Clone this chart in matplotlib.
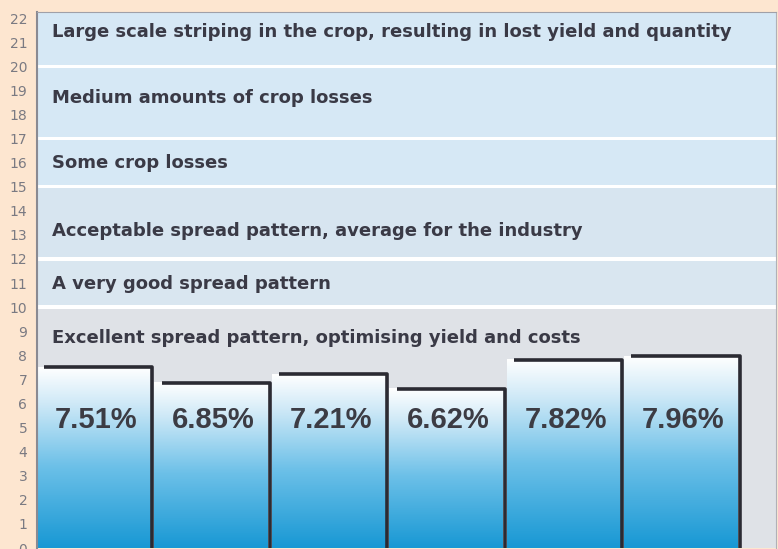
import numpy as np
import matplotlib.pyplot as plt
from matplotlib.colors import LinearSegmentedColormap

# bar values (percent), one per spreader test
values = [7.51, 6.85, 7.21, 6.62, 7.82, 7.96]
bar_labels = ["7.51%", "6.85%", "7.21%", "6.62%", "7.82%", "7.96%"]

# rating bands: (lower, upper, description)
band_lows = [0, 10, 12, 15, 17, 20]
band_highs = [10, 12, 15, 17, 20, 22.25]
band_texts = [
    "Excellent spread pattern, optimising yield and costs",
    "A very good spread pattern",
    "Acceptable spread pattern, average for the industry",
    "Some crop losses",
    "Medium amounts of crop losses",
    "Large scale striping in the crop, resulting in lost yield and quantity",
]
band_text_y = [8.7, 10.95, 13.15, 16.0, 18.7, 21.4]
band_colors = ["#dfe2e7", "#d9e6f0", "#d7e5f0", "#d6e8f5", "#d6e8f5", "#d6e8f5"]

yticks = list(range(0, 23))

fig = plt.figure(figsize=(7.78, 5.49), dpi=100, facecolor="#fde6d0")
ax = fig.add_axes([37 / 778, 1 / 549, 739 / 778, 536 / 549])
ax.set_facecolor("white")
ax.set_xlim(-0.5, 5.79)
ax.set_ylim(0, 22.25)

# background bands separated by thin white gaps
gap = 0.07
for lo, hi, col in zip(band_lows, band_highs, band_colors):
    ax.axhspan(lo + (gap if lo > 0 else 0), hi - (gap if hi < 22 else 0),
               color=col, zorder=0, lw=0)
for txt, ty in zip(band_texts, band_text_y):
    ax.text(-0.37, ty, txt, fontsize=13, fontweight="bold", color="#3a3a46",
            family="DejaVu Sans", va="center", ha="left", zorder=3)

# gradient bars
cmap = LinearSegmentedColormap.from_list(
    "bar", [(0, "#1898d4"), (0.45, "#6cc0e8"), (0.8, "#cfe9f7"), (1, "#ffffff")])
grad = np.linspace(0, 1, 256).reshape(-1, 1)
for i, (v, lab) in enumerate(zip(values, bar_labels)):
    left, right = i - 0.5, i + 0.5
    ax.imshow(grad, cmap=cmap, origin="lower", aspect="auto",
              extent=[left, right - 0.03, 0, v], zorder=1)
    ax.plot([left + 0.06, right - 0.02, right - 0.02], [v, v, 0],
            color="#2b2b33", lw=2.6, solid_capstyle="butt", zorder=2)
    ax.text(i, 5.31, lab, fontsize=21, fontweight="bold", color="#3c3c44",
            family="Liberation Sans", ha="center", va="center", zorder=3)

ax.set_xticks([])
ax.set_yticks(yticks)
ax.tick_params(axis="y", length=0, pad=7, labelsize=10, labelcolor="#7a7a82")
for s in ["bottom", "right"]:
    ax.spines[s].set_visible(False)
ax.spines["left"].set_color("#8a8a92")
ax.spines["left"].set_linewidth(1.5)
ax.spines["top"].set_color("#a0a0a8")
ax.spines["right"].set_visible(True)
ax.spines["right"].set_color("#b0b0b8")

fig.savefig("out.png", dpi=100, facecolor=fig.get_facecolor())
